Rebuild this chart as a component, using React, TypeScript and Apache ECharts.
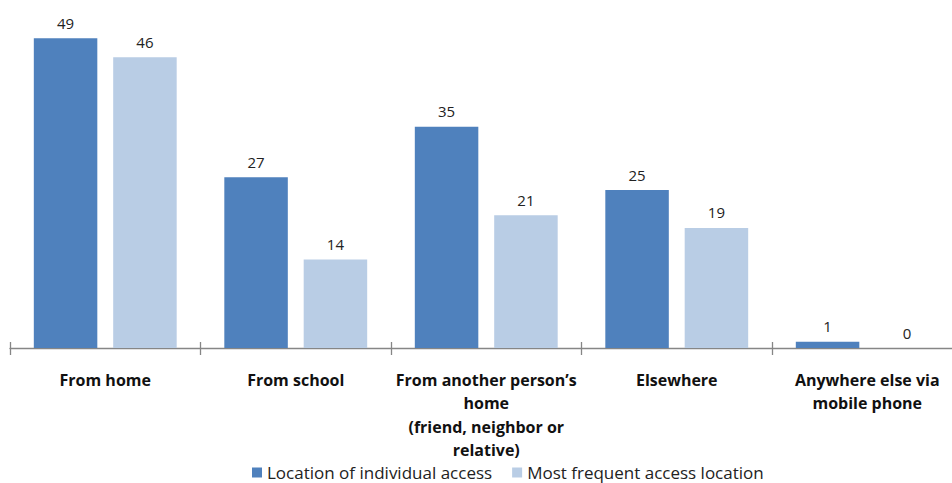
import React, { useEffect, useRef } from "react";
import * as echarts from "echarts";

const categories = [
  "From home",
  "From school",
  "From another person’s\nhome\n(friend, neighbor or\nrelative)",
  "Elsewhere",
  "Anywhere else via\nmobile phone",
];
const individualAccess = [49, 27, 35, 25, 1];
const mostFrequent = [46, 14, 21, 19, 0];
const seriesNames = ["Location of individual access", "Most frequent access location"];

export default function App() {
  const ref = useRef<HTMLDivElement>(null);
  useEffect(() => {
    if (!ref.current) return;
    const chart = echarts.init(ref.current, undefined, { renderer: "svg" });
    const font = "'Open Sans', 'Liberation Sans', sans-serif";
    chart.setOption({
      animation: false,
      textStyle: { fontFamily: font },
      grid: { left: 10, top: 32, width: 952.5, height: 316, containLabel: false },
      legend: {
        data: seriesNames,
        top: 464,
        left: 252,
        padding: 0,
        itemWidth: 10,
        itemHeight: 10,
        itemGap: 20,
        icon: "rect",
        textStyle: { fontSize: 17, lineHeight: 16, color: "#222", fontFamily: font },
      },
      xAxis: [
        {
          type: "category",
          data: categories,
          axisLine: { lineStyle: { color: "#868686", width: 1.3 } },
          axisTick: { show: true, interval: 0, length: 7, lineStyle: { color: "#868686", width: 1.3 } },
          axisLabel: {
            interval: 0,
            fontSize: 16,
            fontWeight: "bold",
            color: "#111",
            margin: 20,
            lineHeight: 23.5,
            fontFamily: font,
          },
        },
        {
          type: "category",
          data: categories,
          position: "bottom",
          axisLine: { show: false },
          axisTick: { show: true, interval: 0, inside: true, length: 6, lineStyle: { color: "#868686", width: 1.3 } },
          axisLabel: { show: false },
        },
      ],
      yAxis: {
        type: "value",
        min: 0,
        max: 50,
        show: false,
        splitLine: { show: false },
      },
      series: [
        {
          name: seriesNames[0],
          type: "bar",
          data: individualAccess,
          barGap: "25%",
          barCategoryGap: "25%",
          itemStyle: { color: "#4F81BD" },
          label: { show: true, position: "top", distance: 8, fontSize: 15, color: "#222", fontFamily: font },
        },
        {
          name: seriesNames[1],
          type: "bar",
          data: mostFrequent,
          barGap: "25%",
          barCategoryGap: "25%",
          itemStyle: { color: "#B9CDE5" },
          label: { show: true, position: "top", distance: 8, fontSize: 15, color: "#222", fontFamily: font },
        },
      ],
    });
    return () => chart.dispose();
  }, []);
  return (
    <div style={{ position: "absolute", left: 0, top: 0, width: 952, height: 483, overflow: "hidden" }}>
      <div ref={ref} style={{ width: 966, height: 483 }} />
    </div>
  );
}
